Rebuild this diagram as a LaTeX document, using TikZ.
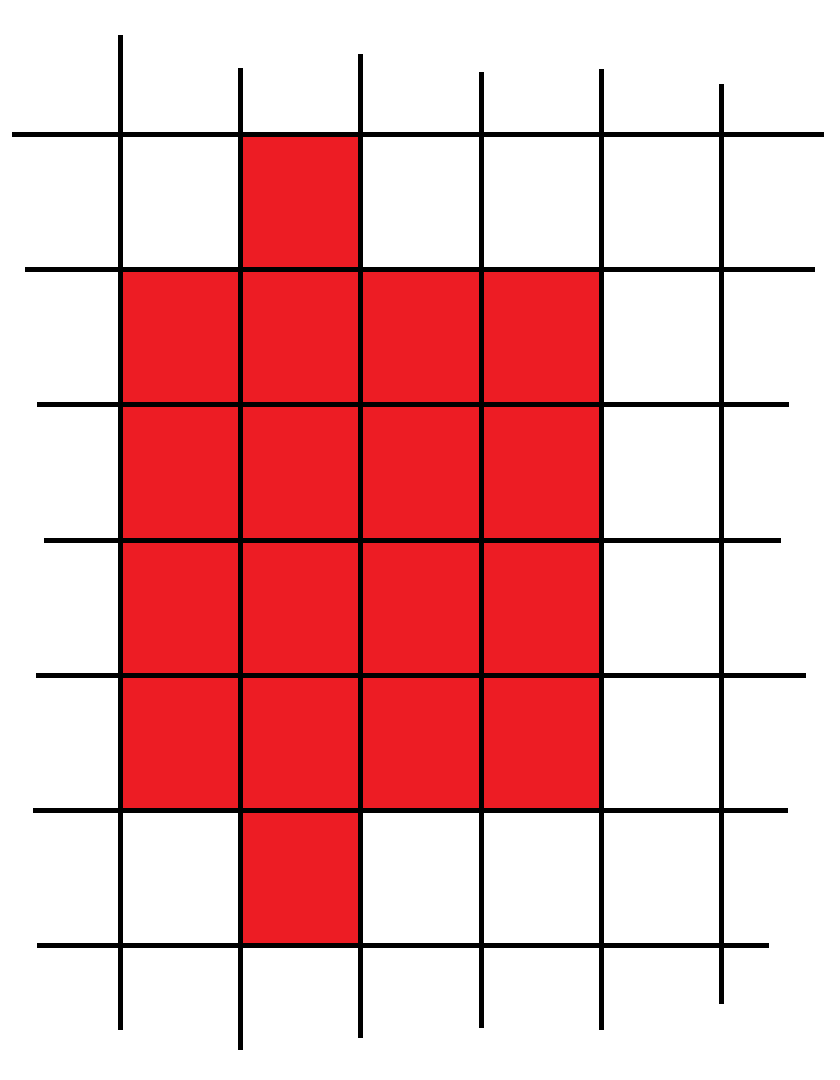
\documentclass[tikz,border=0pt]{standalone}
\usepackage{tikz}
\definecolor{paintred}{HTML}{ED1C24}
\tikzset{
	grid line/.style={line width=5pt, draw=black},
	red cell/.style={fill=paintred, draw=none},
}
\begin{document}
\begin{tikzpicture}[x=1pt, y=-1pt]
	\useasboundingbox (0,0) rectangle (840,1080);
	\fill[red cell] (240,133) rectangle (360,269);
	\fill[red cell] (120,269) rectangle (601,809);
	\fill[red cell] (240,809) rectangle (360,944);
	% vertical lines
	\foreach \x/\ya/\yb in {120/35/1030, 240/68/1050, 360/54/1038, 481/72/1028, 601/69/1030, 721/84/1004}
		\draw[grid line] (\x,\ya) -- (\x,\yb);
	% horizontal lines
	\foreach \y/\xa/\xb in {134/12/824, 269/25/815, 404/37/789, 540/44/781, 675/36/806, 810/33/788, 945/37/769}
		\draw[grid line] (\xa,\y) -- (\xb,\y);
\end{tikzpicture}
\end{document}
